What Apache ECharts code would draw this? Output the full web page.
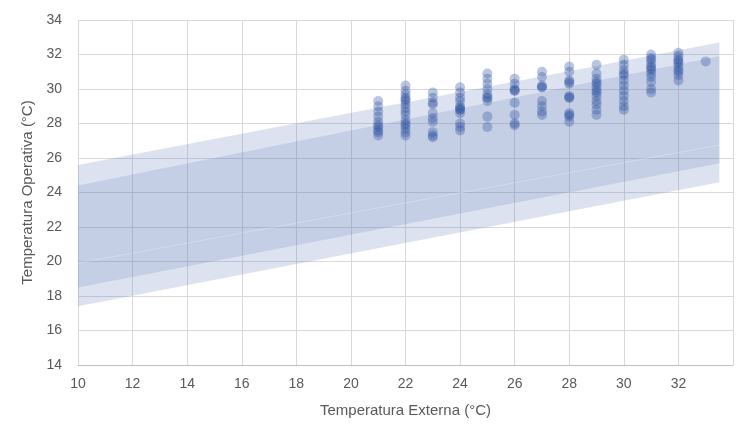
<!DOCTYPE html>
<html>
<head>
<meta charset="utf-8">
<script src="https://cdn.jsdelivr.net/npm/echarts@6/dist/echarts.min.js"></script>
<style>html,body{margin:0;padding:0;background:#fff;}#c{width:736px;height:433px;}</style>
</head>
<body>
<div id="c"></div>
<script>
// Band end points (external temperature)
const bandX = [10, 33.5];
const outerLow = [17.4, 24.6];
const outerHigh = [25.6, 32.7];
const innerLow = [18.5, 25.7];
const innerHigh = [24.4, 31.9];
const midLine = [19.9, 26.75];

// Scatter observations: external temperature -> operative temperatures
const obsX = [21, 22, 23, 24, 25, 26, 27, 28, 29, 30, 31, 32, 33];
const obsY = [
  [29.3, 29.0, 28.7, 28.4, 28.1, 27.9, 27.8, 27.6, 27.5, 27.3],
  [30.2, 29.9, 29.7, 29.5, 29.4, 29.3, 29.1, 28.9, 28.7, 28.5, 28.2, 28.0, 27.9, 27.7, 27.5, 27.3],
  [29.8, 29.5, 29.2, 29.1, 28.6, 28.3, 28.1, 27.5, 27.3, 27.2],
  [30.1, 29.8, 29.5, 29.3, 29.0, 28.9, 28.8, 28.8, 28.6, 28.0, 27.8, 27.6],
  [30.9, 30.6, 30.3, 30.0, 29.7, 29.5, 29.5, 29.3, 28.4, 27.8],
  [30.6, 30.3, 30.0, 29.9, 29.9, 29.2, 28.5, 28.0, 27.9],
  [31.0, 30.7, 30.2, 30.1, 30.1, 29.3, 29.0, 28.7, 28.5],
  [31.3, 31.0, 30.5, 30.3, 30.4, 29.6, 29.5, 29.5, 28.6, 28.4, 28.5, 28.1],
  [31.4, 30.9, 30.6, 30.4, 30.1, 29.9, 29.6, 29.3, 29.1, 28.8, 28.5, 30.3, 29.8],
  [31.7, 31.4, 31.1, 30.8, 30.5, 30.2, 29.9, 29.6, 29.3, 29.0, 28.8, 30.9],
  [32.0, 31.7, 31.5, 31.3, 31.1, 30.9, 30.7, 30.4, 30.0, 29.8, 31.8, 31.2],
  [32.1, 31.9, 31.7, 31.5, 31.3, 31.1, 30.8, 30.5, 31.6, 31.0],
  [31.6]
];

const xTicksHidden = [34];

const pts = [];
obsX.forEach((x, i) => obsY[i].forEach(y => pts.push([x, y])));

const bandRows = (lo, hi) => bandX.map((x, i) => [x, lo[i], hi[i]]);
const pair = (arr) => bandX.map((x, i) => [x, arr[i]]);

function bandRender(color) {
  return function (params, api) {
    if (params.dataIndexInside !== 0) return null;
    const n = bandX.length;
    const top = [], bot = [];
    for (let i = 0; i < n; i++) {
      top.push(api.coord([api.value(0, i), api.value(2, i)]));
      bot.push(api.coord([api.value(0, i), api.value(1, i)]));
    }
    return {
      type: 'polygon',
      shape: {points: top.concat(bot.reverse())},
      style: {fill: color}
    };
  };
}

const font = 'Liberation Sans';
const chart = echarts.init(document.getElementById('c'), null, {renderer: 'canvas'});
chart.setOption({
  animation: false,
  backgroundColor: '#fff',
  grid: {left: 78, right: 0, top: 20, bottom: 68, containLabel: false},
  xAxis: {
    type: 'value', min: 10, max: 34, interval: 2,
    name: 'Temperatura Externa (°C)', nameLocation: 'middle', nameGap: 38,
    nameTextStyle: {color: '#595959', fontSize: 15, fontFamily: font},
    axisLine: {show: true, lineStyle: {color: '#bfbfbf', width: 1}},
    axisTick: {show: false},
    axisLabel: {color: '#595959', fontSize: 14, fontFamily: font, margin: 12,
      formatter: v => xTicksHidden.includes(v) ? '' : String(v)},
    splitLine: {show: true, lineStyle: {color: '#d9d9d9', width: 1}}
  },
  yAxis: {
    type: 'value', min: 14, max: 34, interval: 2,
    name: 'Temperatura Operativa (°C)', nameLocation: 'middle', nameGap: 37,
    nameTextStyle: {color: '#595959', fontSize: 15, fontFamily: font},
    axisLine: {show: false},
    axisTick: {show: false},
    axisLabel: {color: '#595959', fontSize: 14, fontFamily: font, margin: 16},
    splitLine: {show: true, lineStyle: {color: '#d9d9d9', width: 1}}
  },
  series: [
    {type: 'custom', data: bandRows(outerLow, outerHigh), renderItem: bandRender('rgba(68,99,170,0.19)'),
      encode: {x: 0, y: [1, 2]}, silent: true},
    {type: 'custom', data: bandRows(innerLow, innerHigh), renderItem: bandRender('rgba(68,99,170,0.155)'),
      encode: {x: 0, y: [1, 2]}, silent: true},
    {type: 'line', data: pair(midLine), symbol: 'none',
      lineStyle: {color: 'rgba(255,255,255,0.25)', width: 1}, silent: true},
    {type: 'scatter', data: pts, symbolSize: 10,
      itemStyle: {color: 'rgba(40,78,158,0.4)'}}
  ]
});
</script>
</body>
</html>
